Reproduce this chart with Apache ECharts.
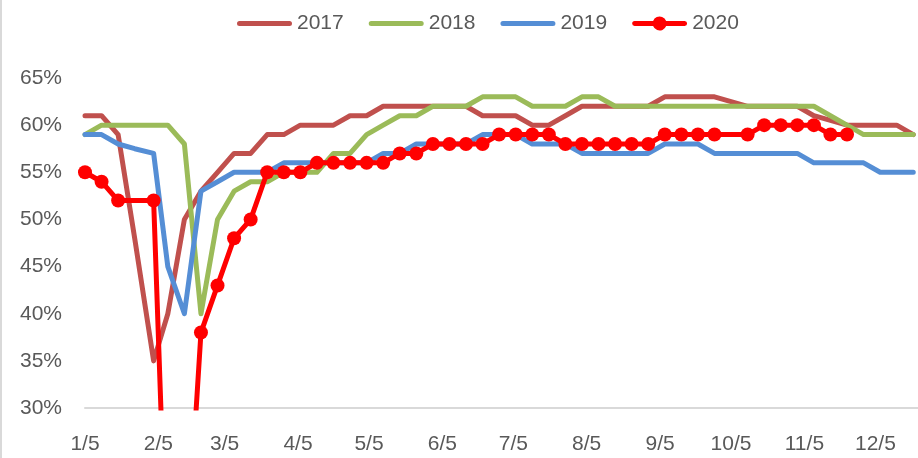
<!DOCTYPE html>
<html>
<head>
<meta charset="utf-8">
<script src="https://cdn.jsdelivr.net/npm/echarts@6/dist/echarts.min.js"></script>
<style>
html,body{margin:0;padding:0;background:#fff;}
#chart{width:918px;height:458px;}
</style>
</head>
<body>
<div id="chart"></div>
<script>
// Weekly observation dates (month/day)
const dates = ["1/5","1/12","1/19","1/26","2/3","2/9","2/16","2/23","3/2","3/9","3/16","3/23","3/30",
  "4/6","4/13","4/20","4/27","5/4","5/11","5/18","5/25","6/1","6/8","6/15","6/22","6/29",
  "7/6","7/13","7/20","7/27","8/3","8/10","8/17","8/24","8/31","9/7","9/14","9/21","9/28",
  "10/5","10/12","10/19","10/26","11/2","11/9","11/16","11/23","11/30","12/7","12/14","12/21"];

// Values in percent
const s2017 = [61,61,59,48,35,40,50,53,55,57,57,59,59,60,60,60,61,61,62,62,62,62,62,62,61,61,61,60,60,61,62,62,62,62,62,63,63,63,63,62.5,62,62,62,62,61,60.5,60,60,60,60,59];
const s2018 = [59,60,60,60,60,60,58,40,50,53,54,54,55,55,55,57,57,59,60,61,61,62,62,62,63,63,63,62,62,62,63,63,62,62,62,62,62,62,62,62,62,62,62,62,62,61,60,59,59,59,59];
const s2019 = [59,59,58,57.5,57,45,40,53,54,55,55,55,56,56,56,56,56,56,57,57,58,58,58,58,59,59,59,58,58,58,57,57,57,57,57,58,58,58,57,57,57,57,57,57,56,56,56,56,55,55,55];
const s2020 = [55,54,52,null,52,9,10,38,43,48,50,55,55,55,56,56,56,56,56,57,57,58,58,58,58,59,59,59,59,58,58,58,58,58,58,59,59,59,59,null,59,60,60,60,60,59,59,null,null,null,null];

const seriesNames = ["2017","2018","2019","2020"];
const tickLabels = ["1/5","2/5","3/5","4/5","5/5","6/5","7/5","8/5","9/5","10/5","11/5","12/5"];

const cumDays = [0,31,59,90,120,151,181,212,243,273,304,334];
function dayOf(md){ const p = md.split('/'); return cumDays[+p[0]-1] + (+p[1]) - 5; }
const xs = dates.map(dayOf);
const tickDays = tickLabels.map(dayOf);
function pairs(arr){ return arr.map((v,i)=>[xs[i], v]); }

const FONT = 'Liberation Sans';
const colors = ['#C0504D','#9BBB59','#558ED5','#FF0000'];
const ICON_LINE = 'path://M2.5,4.5H52.5A2.5,2.5 0 0 1 52.5,9.5H2.5A2.5,2.5 0 0 1 2.5,4.5ZM0,0H0.01V0.01H0ZM54.99,13.99H55V14H54.99Z';
const ICON_MARK = 'path://M2.5,4.5H20.96A7,7 0 0 1 34.04,4.5H52.5A2.5,2.5 0 0 1 52.5,9.5H34.04A7,7 0 0 1 20.96,9.5H2.5A2.5,2.5 0 0 1 2.5,4.5Z';

const chart = echarts.init(document.getElementById('chart'));
const lineSeries = [s2017,s2018,s2019,s2020].map((arr,k)=>({
  name: seriesNames[k],
  type: 'line',
  data: pairs(arr),
  connectNulls: true,
  symbol: k===3 ? 'circle' : 'none',
  symbolSize: 14,
  showSymbol: k===3,
  lineStyle: {width: 5, color: colors[k], join: 'round', cap: 'round'},
  itemStyle: {color: colors[k]},
  emphasis: {disabled: true},
  z: 2 + k
}));

chart.setOption({
  animation: false,
  color: colors,
  textStyle: {fontFamily: FONT},
  legend: {
    left: 232, top: 8,
    itemWidth: 55, itemHeight: 14, itemGap: 25,
    textStyle: {fontSize: 21, color: '#595959', fontFamily: FONT},
    data: seriesNames.map((n,k)=>({name: n, icon: k===3 ? ICON_MARK : ICON_LINE}))
  },
  grid: {left: 85, right: 0, top: 78, bottom: 50, containLabel: false},
  xAxis: {
    type: 'value', min: 0, max: 352,
    axisLine: {show: true, lineStyle: {color: '#D9D9D9', width: 2}},
    axisTick: {show: false},
    splitLine: {show: false},
    axisLabel: {
      customValues: tickDays,
      formatter: v => tickLabels[tickDays.indexOf(v)] || '',
      fontSize: 21, color: '#595959', margin: 26, fontFamily: FONT
    }
  },
  yAxis: {
    type: 'value', min: 30, max: 65, interval: 5,
    axisLine: {show: false}, axisTick: {show: false},
    splitLine: {show: false},
    axisLabel: {formatter: v => v + '%', fontSize: 21, color: '#595959', margin: 23, fontFamily: FONT}
  },
  graphic: [{type: 'rect', left: 0, top: 0, shape: {width: 2, height: 458}, style: {fill: '#D9D9D9'}}],
  series: lineSeries
});
</script>
</body>
</html>
